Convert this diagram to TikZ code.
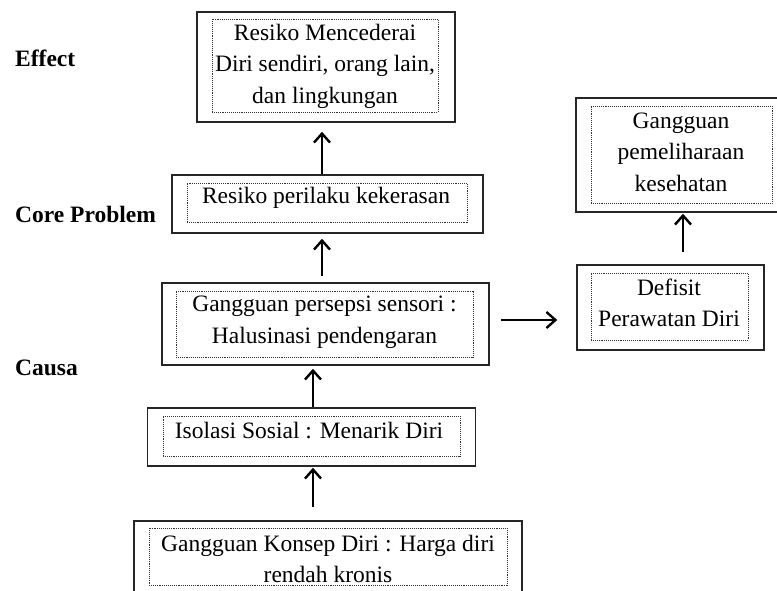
\documentclass[tikz,border=0pt]{standalone}
\usepackage{fontspec}
\setmainfont{Liberation Serif}
\usetikzlibrary{arrows.meta}
\begin{document}
\begin{tikzpicture}[x=1pt,y=-1pt,
  outerbox/.style={draw=black!85, line width=1.5pt, rectangle, inner sep=0pt},
  innerbox/.style={draw=black!80, densely dotted, line width=0.9pt, rectangle, inner sep=0pt},
  boxtext/.style={align=center, inner sep=0pt, font=\fontsize{23.5}{31.5}\selectfont},
  sidelabel/.style={anchor=west, inner sep=0pt, font=\fontsize{23.5}{28}\selectfont\bfseries},
  arr/.style={line width=2.6pt, -{Straight Barb[length=9pt,width=16pt,line width=2.4pt]}}]
\useasboundingbox (0,0) rectangle (777,590);
\begin{scope}
\clip (0,0) rectangle (777,590);
% outer boxes
\node[outerbox, minimum width=258, minimum height=110] (top) at (326,67) {};
\node[outerbox, minimum width=311, minimum height=58] (core) at (327.5,204) {};
\node[outerbox, minimum width=327, minimum height=82] (persepsi) at (325.5,324) {};
\node[outerbox, minimum width=328, minimum height=58] (isolasi) at (311.5,437) {};
\node[outerbox, minimum width=388, minimum height=80] (bottom) at (328,561) {};
\node[outerbox, minimum width=187, minimum height=85] (defisit) at (670.5,307.5) {};
\node[outerbox, minimum width=206, minimum height=114] (pemeliharaan) at (679,155) {};
% inner dotted boxes
\node[innerbox, minimum width=226, minimum height=93] (topin) at (325,65.5) {};
\node[innerbox, minimum width=280, minimum height=39] (corein) at (327,202.5) {};
\node[innerbox, minimum width=297, minimum height=66] (persepsiin) at (324.5,324) {};
\node[innerbox, minimum width=297, minimum height=40] (isolasiin) at (311.5,436) {};
\node[innerbox, minimum width=358, minimum height=57] (bottomin) at (328,556.5) {};
\node[innerbox, minimum width=157, minimum height=67] (defisitin) at (669.5,306.5) {};
\node[innerbox, minimum width=181, minimum height=97] (pemeliharaanin) at (681.5,154.5) {};
% texts
\node[boxtext] (toptext) at (325,66) {Resiko Mencederai\\Diri sendiri, orang lain,\\dan lingkungan};
\node[boxtext] (coretext) at (326,198) {Resiko perilaku kekerasan};
\node[boxtext] (persepsitext) at (324.5,322) {Gangguan persepsi sensori :\\Halusinasi pendengaran};
\node[boxtext] (isolasitext) at (309,431) {Isolasi Sosial : Menarik Diri};
\node[boxtext] (bottomtext) at (328,559) {Gangguan Konsep Diri : Harga diri\\rendah kronis};
\node[boxtext] (defisittext) at (669,303) {Defisit\\Perawatan Diri};
\node[boxtext] (pemeliharaantext) at (681,152) {Gangguan\\pemeliharaan\\kesehatan};
\end{scope}
% side labels
\node[sidelabel] (effect) at (15,58) {Effect};
\node[sidelabel] (coreproblem) at (15,214) {Core Problem};
\node[sidelabel] (causa) at (15,368) {Causa};
% arrows
\coordinate (a1) at ([xshift=-5.5pt]core.north);
\draw[arr, shorten >=9pt] (a1) -- (a1 |- top.south);
\coordinate (a2) at ([xshift=-3.5pt]persepsi.north);
\draw[arr, shorten <=6pt, shorten >=5pt] (a2) -- (a2 |- core.south);
\coordinate (a3) at ([xshift=1.5pt]isolasi.north);
\draw[arr, shorten >=3pt] (a3) -- (a3 |- persepsi.south);
\coordinate (a4) at ([xshift=-15pt]bottom.north);
\draw[arr, shorten <=13pt, shorten >=1pt] (a4) -- (a4 |- isolasi.south);
\coordinate (a5) at ([yshift=4pt]persepsi.east);
\draw[arr, shorten <=11pt, shorten >=19pt] (a5) -- (a5 -| defisit.west);
\coordinate (a6) at ([xshift=12.5pt]defisit.north);
\draw[arr, shorten <=12pt, shorten >=1pt] (a6) -- (a6 |- pemeliharaan.south);
\end{tikzpicture}
\end{document}
